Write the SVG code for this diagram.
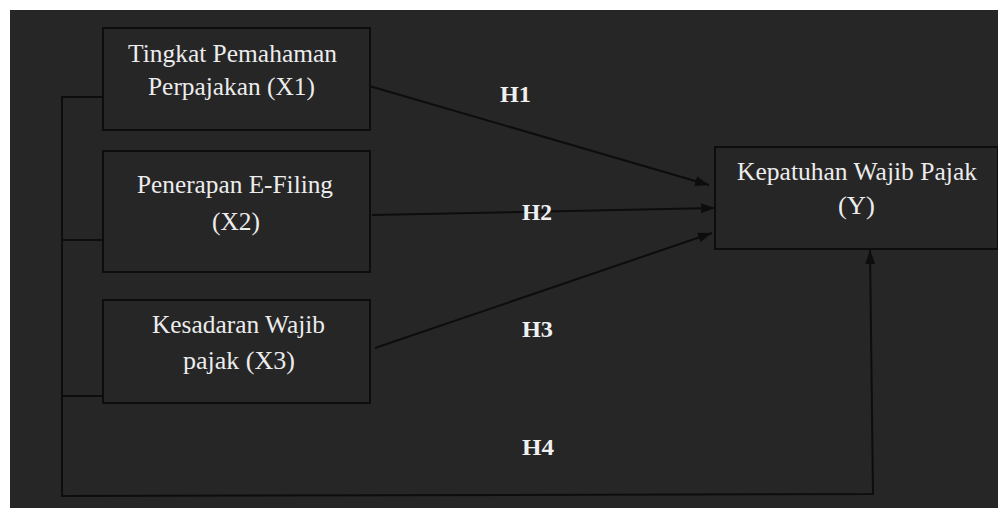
<svg xmlns="http://www.w3.org/2000/svg" width="998" height="508" viewBox="0 0 998 508">
<defs>
<style>
.bg{fill:#262626}
.box{fill:#262626;stroke:#0d0d0d;stroke-width:2}
.t{font-family:'Liberation Serif','Times New Roman',serif;font-size:25px;fill:#ececec;text-anchor:middle}
.h{font-family:'Liberation Serif','Times New Roman',serif;font-size:24px;font-weight:bold;fill:#f0f0f0;text-anchor:middle}
.ln{fill:none;stroke:#0d0d0d;stroke-width:2}
</style>
<marker id="arr" viewBox="0 0 14 10" refX="14" refY="5" markerWidth="14" markerHeight="10" markerUnits="userSpaceOnUse" orient="auto">
<path d="M0,0 L14,5 L0,10 z" fill="#0d0d0d"/>
</marker>
</defs>
<rect x="0" y="0" width="998" height="508" fill="#ffffff"/>
<rect class="bg" x="10" y="10" width="988" height="498"/>
<g id="connectors">
<path class="ln" d="M103,97 L62,97 L62,496 L873,494 L870,250" marker-end="url(#arr)"/>
<path class="ln" d="M62,240 L103,240"/>
<path class="ln" d="M62,396 L104,396"/>
<path class="ln" d="M366,85 L709,185" marker-end="url(#arr)"/>
<path class="ln" d="M372,215 L715,208" marker-end="url(#arr)"/>
<path class="ln" d="M375,348 L712,233" marker-end="url(#arr)"/>
<text class="h" x="515.5" y="102" textLength="31" lengthAdjust="spacingAndGlyphs">H1</text>
<text class="h" x="537" y="220" textLength="30" lengthAdjust="spacingAndGlyphs">H2</text>
<text class="h" x="537.5" y="337" textLength="31" lengthAdjust="spacingAndGlyphs">H3</text>
<text class="h" x="538" y="455" textLength="32" lengthAdjust="spacingAndGlyphs">H4</text>
</g>
<g id="x1">
<rect class="box" x="103" y="28" width="267" height="102"/>
<text class="t" x="232.5" y="62" textLength="209" lengthAdjust="spacingAndGlyphs">Tingkat Pemahaman</text>
<text class="t" x="231.5" y="95" textLength="167" lengthAdjust="spacingAndGlyphs">Perpajakan (X1)</text>
</g>
<g id="x2">
<rect class="box" x="103" y="151" width="267" height="121"/>
<text class="t" x="235" y="193" textLength="196" lengthAdjust="spacingAndGlyphs">Penerapan E-Filing</text>
<text class="t" x="236" y="230" textLength="48" lengthAdjust="spacingAndGlyphs">(X2)</text>
</g>
<g id="x3">
<rect class="box" x="103" y="300" width="267" height="103"/>
<text class="t" x="238.5" y="333" textLength="173" lengthAdjust="spacingAndGlyphs">Kesadaran Wajib</text>
<text class="t" x="239" y="369" textLength="112" lengthAdjust="spacingAndGlyphs">pajak (X3)</text>
</g>
<g id="y">
<rect class="box" x="715" y="147" width="283" height="102"/>
<text class="t" x="857" y="180" textLength="240" lengthAdjust="spacingAndGlyphs">Kepatuhan Wajib Pajak</text>
<text class="t" x="856.5" y="214" textLength="37" lengthAdjust="spacingAndGlyphs">(Y)</text>
</g>
</svg>
